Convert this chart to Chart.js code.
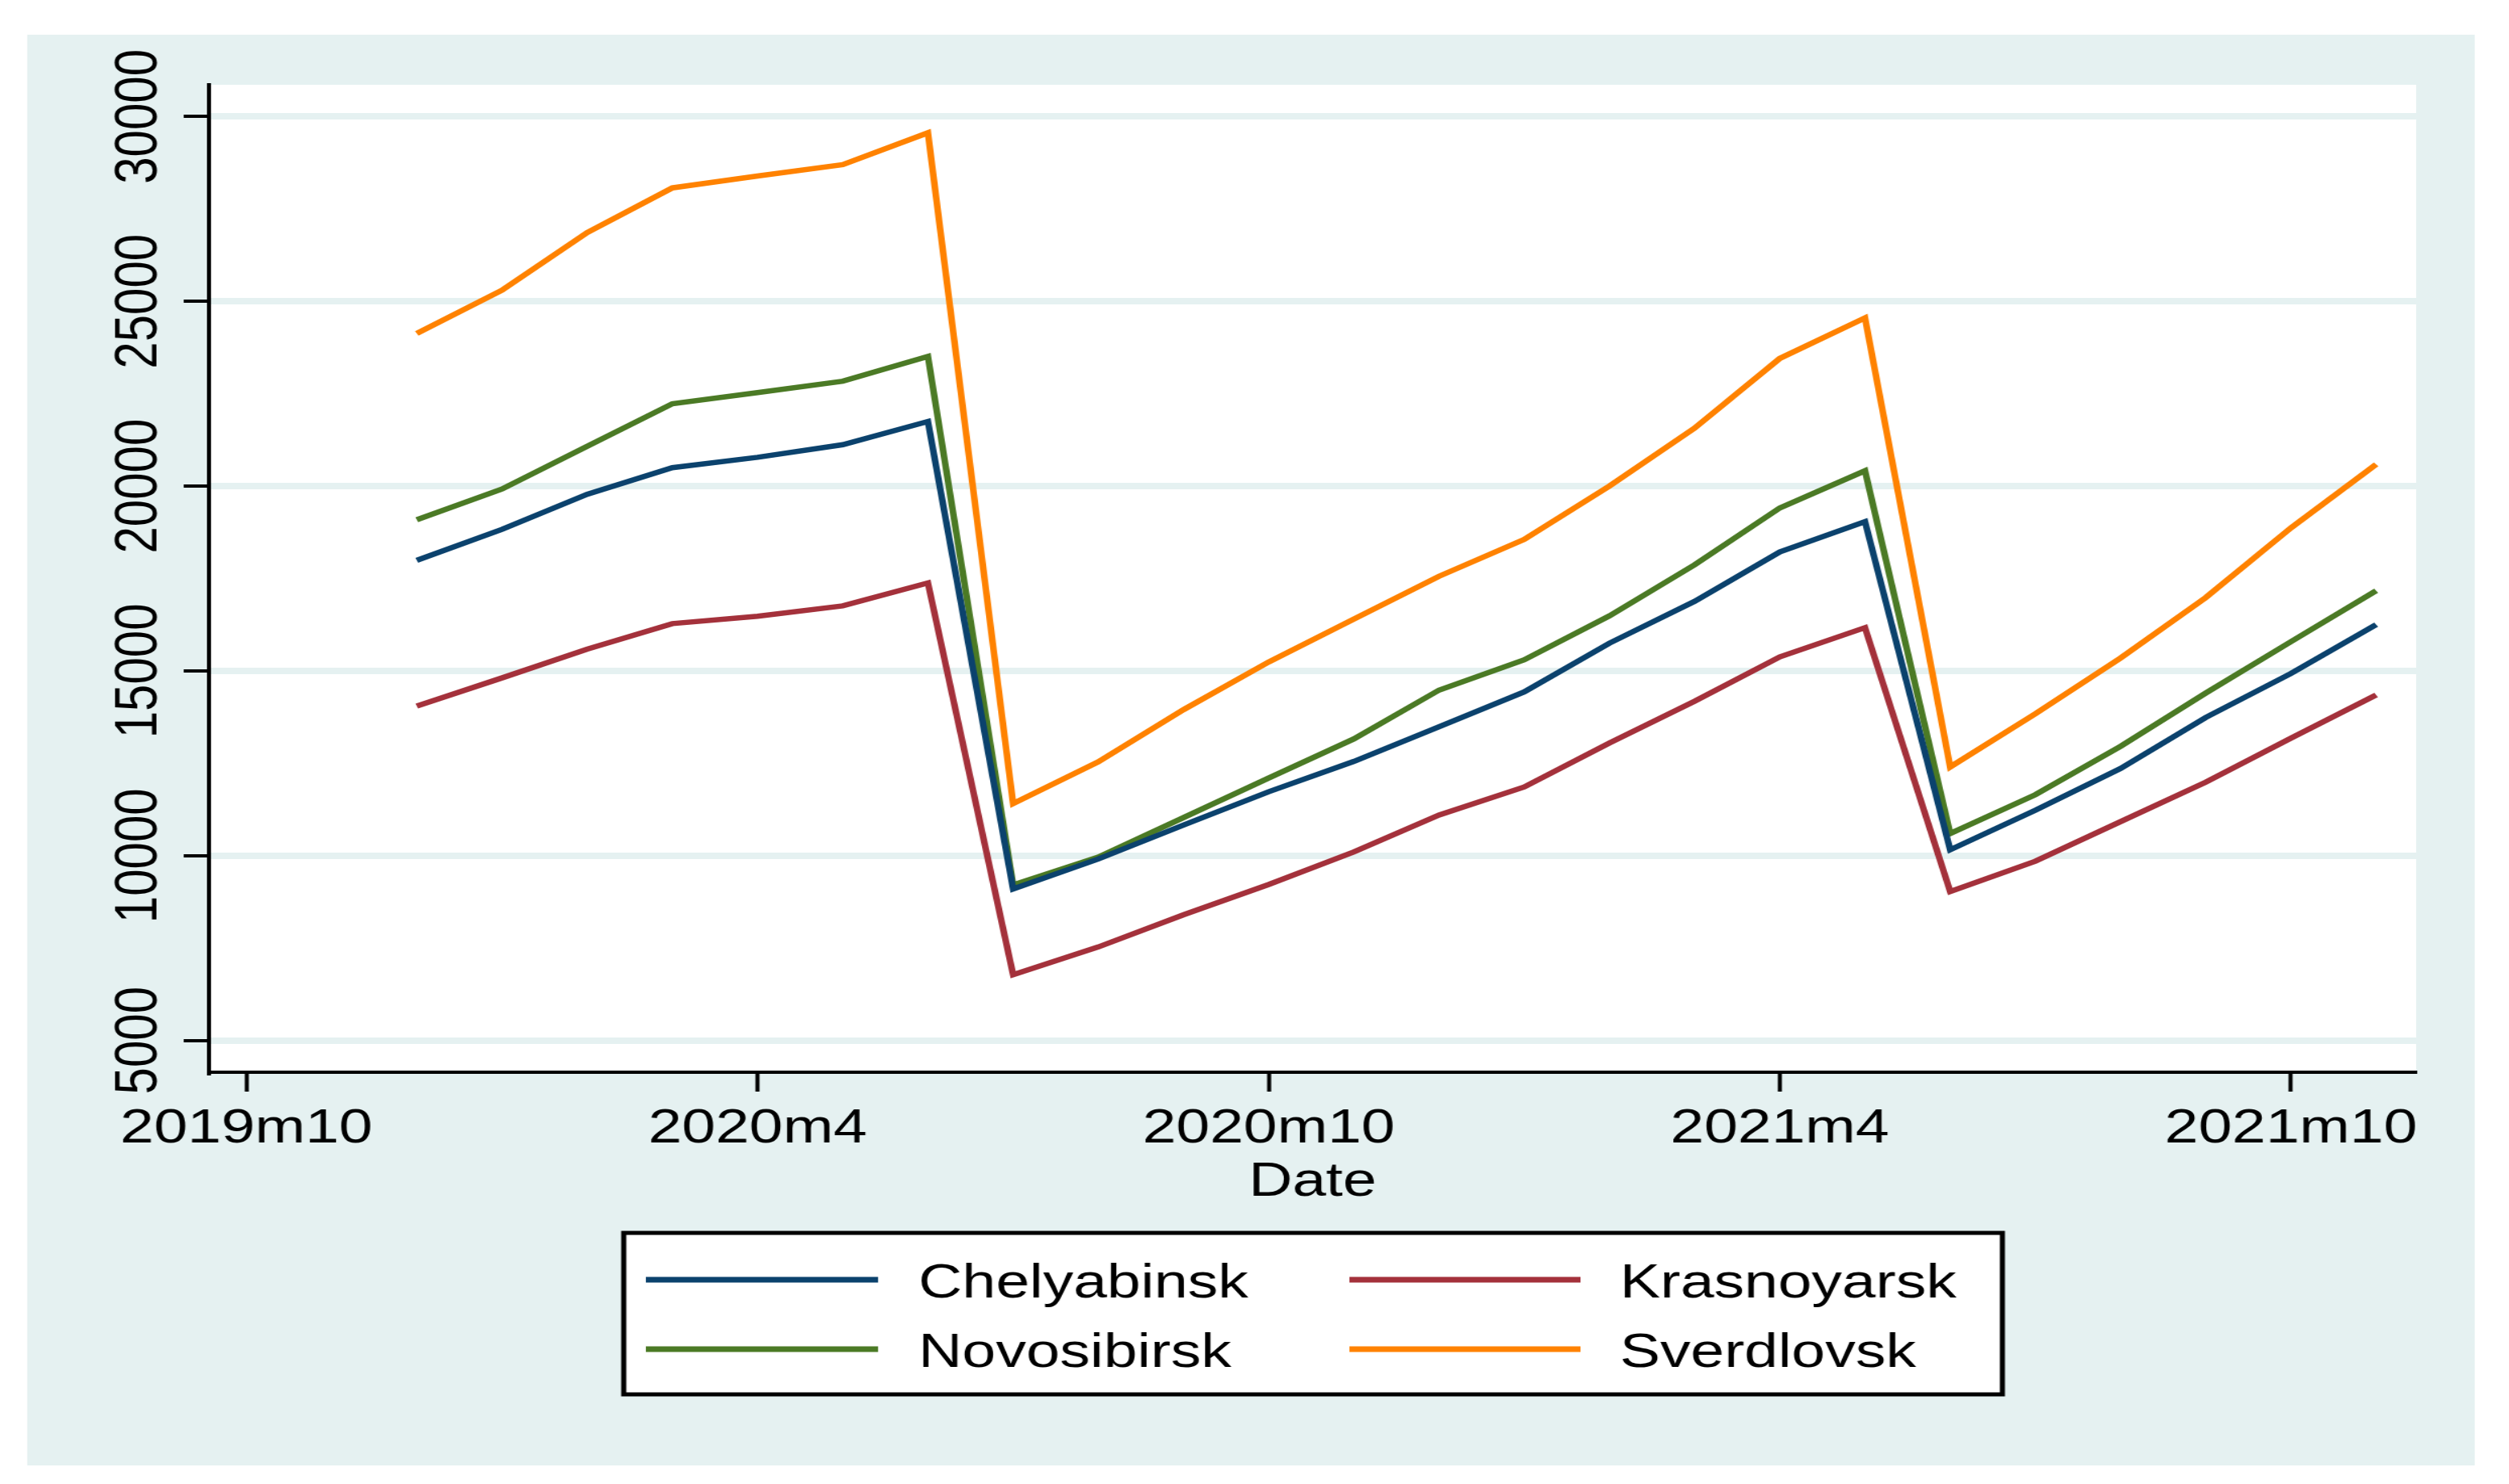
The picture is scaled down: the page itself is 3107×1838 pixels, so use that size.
<!DOCTYPE html>
<html><head><meta charset="utf-8">
<script src="https://cdn.jsdelivr.net/npm/chart.js@4.4.0/dist/chart.umd.min.js"></script>
<style>
html,body{margin:0;padding:0;background:#fff;overflow:hidden;}
#wrap{width:3107px;height:1838px;overflow:hidden;}
#c{display:block;width:2486px;height:1838px;transform:scaleX(1.2498);transform-origin:0 0;}
</style></head><body>
<div id="wrap"><canvas id="c" width="2486" height="1838"></canvas></div>
<script>
// ---- data ----
const dates = ['2019m12','2020m1','2020m2','2020m3','2020m4','2020m5','2020m6','2020m7','2020m8','2020m9','2020m10','2020m11',
               '2020m12','2021m1','2021m2','2021m3','2021m4','2021m5','2021m6','2021m7','2021m8','2021m9','2021m10','2021m11'];
const chelyabinsk = [17990,18830,19780,20500,20780,21120,21750, 9100, 9910,10830,11730,12550,13490,14430,15750,16880,18220,19040,10160,11230,12360,13740,14930,16250];
const krasnoyarsk = [14050,14810,15590,16280,16480,16760,17380, 6780, 7530, 8400, 9220,10100,11100,11860,13050,14180,15380,16170, 9030, 9850,10920,11990,13180,14350];
const novosibirsk = [19090,19920,21080,22230,22530,22840,23510, 9210, 9960,11030,12100,13160,14480,15300,16490,17870,19410,20415,10600,11650,12960,14400,15790,17170];
const sverdlovsk  = [24130,25300,26860,28070,28390,28700,29560,11410,12540,13950,15240,16400,17560,18560,20000,21570,23455,24550,12400,13840,15350,16985,18870,20590];
const seriesNames = ['Chelyabinsk','Krasnoyarsk','Novosibirsk','Sverdlovsk'];
const xTickLabels = ['2019m10','2020m4','2020m10','2021m4','2021m10'];
const yTickValues = [5000,10000,15000,20000,25000,30000];
const xTitle = 'Date';

// ---- helpers ----
function monthIndex(s){ const p = s.split('m'); return (parseInt(p[0])-2019)*12 + parseInt(p[1]) - 10; }
const labelByIndex = {}; xTickLabels.forEach(l => labelByIndex[monthIndex(l)] = l);
function pts(arr){ return arr.map((v,i)=>({x: monthIndex(dates[i]), y: v})); }

const BG = '#e5f1f1';
const FONT = '"Liberation Sans", Arial, sans-serif';
const colors = ['#0b426d','#a4313b','#4b7a25','#ff8200'];
const seriesData = [chelyabinsk, krasnoyarsk, novosibirsk, sverdlovsk];

const decor = {
  id: 'decor',
  beforeDraw(chart){
    const ctx = chart.ctx, a = chart.chartArea;
    ctx.save();
    ctx.fillStyle = '#ffffff'; ctx.fillRect(0,0,chart.width,chart.height);
    ctx.fillStyle = BG; ctx.fillRect(27,43,2452-27,1815-43);
    ctx.fillStyle = '#ffffff'; ctx.fillRect(a.left,a.top,a.right-a.left,a.bottom-a.top);
    ctx.restore();
  },
  afterDraw(chart){
    const ctx = chart.ctx, a = chart.chartArea, ys = chart.scales.y;
    ctx.save();
    ctx.fillStyle = '#000';
    ctx.font = '60px ' + FONT;
    // rotated y tick labels
    ys.ticks.forEach(t => {
      const py = ys.getPixelForValue(t.value);
      ctx.save();
      ctx.translate(155, py);
      ctx.rotate(-Math.PI/2);
      ctx.textAlign = 'center'; ctx.textBaseline = 'alphabetic';
      ctx.fillText(String(t.value), 0, 0);
      ctx.restore();
    });
    // x title
    ctx.textAlign = 'center'; ctx.textBaseline = 'alphabetic';
    ctx.fillText(xTitle, (a.left+a.right)/2, 1481);
    // legend
    const bx0 = 618, bx1 = 1984, by0 = 1527, by1 = 1727;
    ctx.fillStyle = '#fff'; ctx.fillRect(bx0,by0,bx1-bx0,by1-by0);
    ctx.strokeStyle = '#000'; ctx.lineWidth = 5; ctx.strokeRect(bx0,by0,bx1-bx0,by1-by0);
    const cols = [[640,870,910],[1337,1566,1605]];
    const rows = [1585,1671];
    chart.data.datasets.forEach((ds,i) => {
      const c = cols[i%2], r = rows[Math.floor(i/2)];
      ctx.strokeStyle = ds.borderColor; ctx.lineWidth = 7;
      ctx.beginPath(); ctx.moveTo(c[0], r); ctx.lineTo(c[1], r); ctx.stroke();
      ctx.fillStyle = '#000'; ctx.textAlign = 'left'; ctx.textBaseline = 'alphabetic';
      ctx.fillText(ds.label, c[2], r + 22);
    });
    ctx.restore();
  }
};

new Chart(document.getElementById('c'), {
  type: 'line',
  data: {
    datasets: seriesNames.map((n,i) => ({
      label: n, data: pts(seriesData[i]), borderColor: colors[i], backgroundColor: colors[i],
      borderWidth: 6.5, pointRadius: 0, tension: 0, fill: false
    }))
  },
  options: {
    responsive: false, animation: false, devicePixelRatio: 1,
    layout: { padding: { left: 182, right: 92, top: 105, bottom: 390 } },
    plugins: { legend: { display: false }, tooltip: { enabled: false } },
    scales: {
      x: {
        type: 'linear', min: -0.44, max: 25.47,
        afterBuildTicks: s => { s.ticks = xTickLabels.map(l => ({ value: monthIndex(l) })); },
        afterFit: s => { s.height = 120; },
        ticks: { autoSkip: false, maxRotation: 0, minRotation: 0, padding: 10, color: '#000',
                 font: { size: 60, family: FONT }, callback: v => labelByIndex[v] },
        grid: { drawOnChartArea: false, drawTicks: true, tickLength: 24, tickWidth: 4, tickColor: '#000' },
        border: { display: true, color: '#000', width: 4 }
      },
      y: {
        type: 'linear', min: 4140, max: 30860,
        afterBuildTicks: s => { s.ticks = yTickValues.map(v => ({ value: v })); },
        afterFit: s => { s.width = 25; },
        ticks: { display: false },
        grid: { color: BG, lineWidth: 8, drawTicks: true, tickLength: 25, tickWidth: 4, tickColor: '#000' },
        border: { display: true, color: '#000', width: 4 }
      }
    }
  },
  plugins: [decor]
});
</script>
</body></html>
